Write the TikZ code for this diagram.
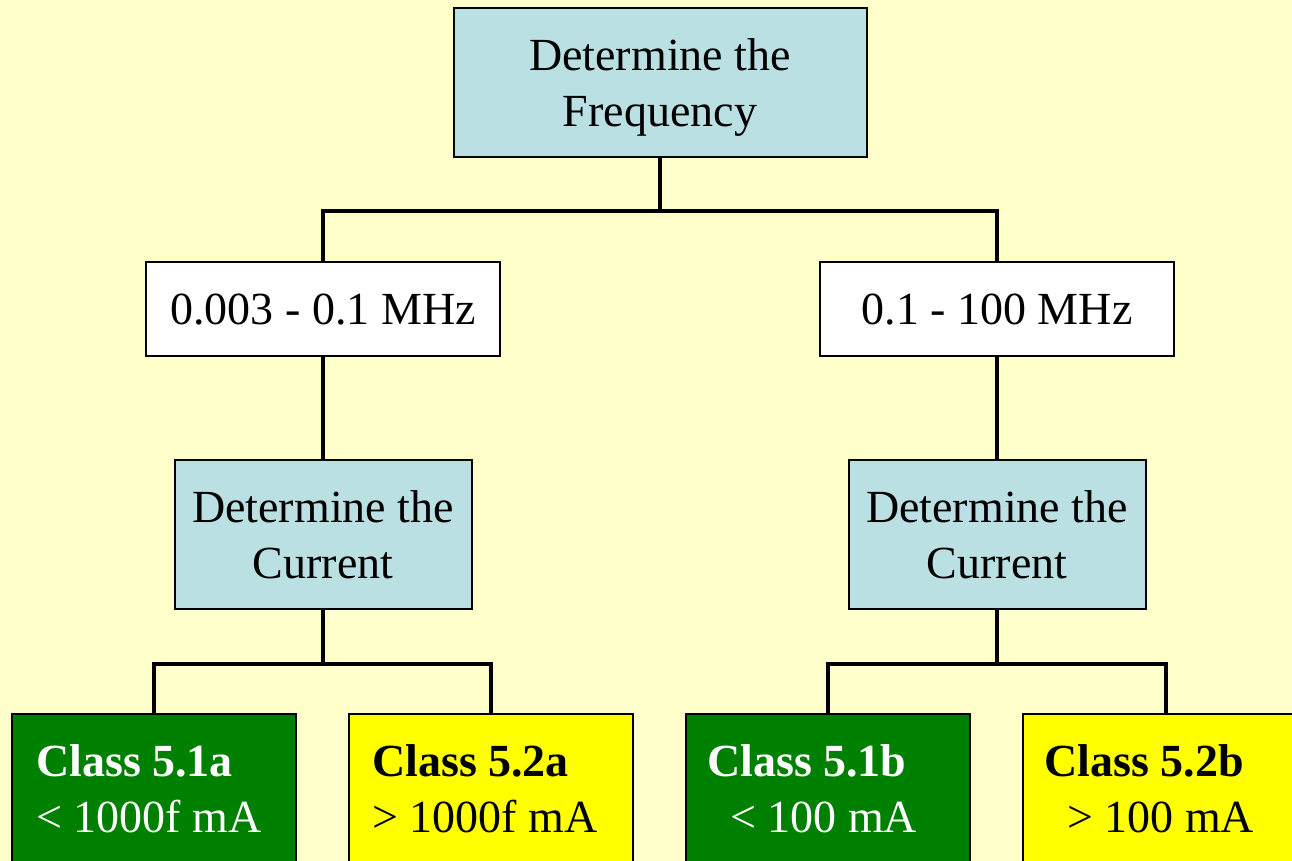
\documentclass[tikz,border=0pt]{standalone}
\usepackage{fontspec}
\setmainfont{Liberation Serif}
\definecolor{bgyellow}{HTML}{FFFFCC}
\definecolor{boxblue}{HTML}{BBE0E3}
\definecolor{classgreen}{HTML}{008000}
\definecolor{classyellow}{HTML}{FFFF00}
\begin{document}
\begin{tikzpicture}[x=1pt,y=-1pt,
  font=\fontsize{46}{56}\selectfont,
  box/.style={draw=black,line width=2pt,inner sep=0pt,align=center,text depth=0pt},
  bluebox/.style={box,fill=boxblue},
  whitebox/.style={box,fill=white},
  greenbox/.style={box,fill=classgreen},
  yellowbox/.style={box,fill=classyellow},
  wire/.style={line width=4pt,line cap=rect},
  lbl/.style={anchor=base west,inner sep=0pt}
]
\clip (0,0) rectangle (1292,861);
\fill[bgyellow] (0,0) rectangle (1292,861);

% decision boxes
\node[bluebox,minimum width=413pt,minimum height=149pt] (freq) at (660,82.5) {Determine the\\Frequency};
\node[whitebox,minimum width=354pt,minimum height=94pt] (low) at (323,309) {0.003 - 0.1 MHz};
\node[whitebox,minimum width=354pt,minimum height=94pt] (high) at (997,309) {0.1 - 100 MHz};
\node[bluebox,minimum width=297pt,minimum height=149pt] (curL) at (323,534.5) {Determine the\\Current};
\node[bluebox,minimum width=297pt,minimum height=149pt] (curR) at (997,534.5) {Determine the\\Current};

% class boxes (run past the lower edge)
\node[greenbox,minimum width=284pt,minimum height=200pt] (c51a) at (154,814) {};
\node[yellowbox,minimum width=284pt,minimum height=200pt] (c52a) at (491,814) {};
\node[greenbox,minimum width=284pt,minimum height=200pt] (c51b) at (828,814) {};
\node[yellowbox,minimum width=286pt,minimum height=200pt] (c52b) at (1166,814) {};

% class labels
\node[lbl,text=white] (n51a) at ([shift={(25pt,-63pt)}]c51a.north west) {\textbf{Class 5.1a}};
\node[lbl,text=white] (v51a) at ([shift={(25pt,-119pt)}]c51a.north west) {< 1000f mA};
\node[lbl] (n52a) at ([shift={(24pt,-63pt)}]c52a.north west) {\textbf{Class 5.2a}};
\node[lbl] (v52a) at ([shift={(24pt,-119pt)}]c52a.north west) {> 1000f mA};
\node[lbl,text=white] (n51b) at ([shift={(22pt,-63pt)}]c51b.north west) {\textbf{Class 5.1b}};
\node[lbl,text=white] (v51b) at ([shift={(45pt,-119pt)}]c51b.north west) {< 100 mA};
\node[lbl] (n52b) at ([shift={(22pt,-63pt)}]c52b.north west) {\textbf{Class 5.2b}};
\node[lbl] (v52b) at ([shift={(45pt,-119pt)}]c52b.north west) {> 100 mA};

% tree connectors
\draw[wire] (freq.south) -- ++(0,53) -| (low.north);
\draw[wire] (freq.south) -- ++(0,53) -| (high.north);
\draw[wire] (low.south) -- (curL.north);
\draw[wire] (high.south) -- (curR.north);
\draw[wire] (curL.south) -- ++(0,54) -| (c51a.north);
\draw[wire] (curL.south) -- ++(0,54) -| (c52a.north);
\draw[wire] (curR.south) -- ++(0,54) -| (c51b.north);
\draw[wire] (curR.south) -- ++(0,54) -| (c52b.north);
\end{tikzpicture}
\end{document}
